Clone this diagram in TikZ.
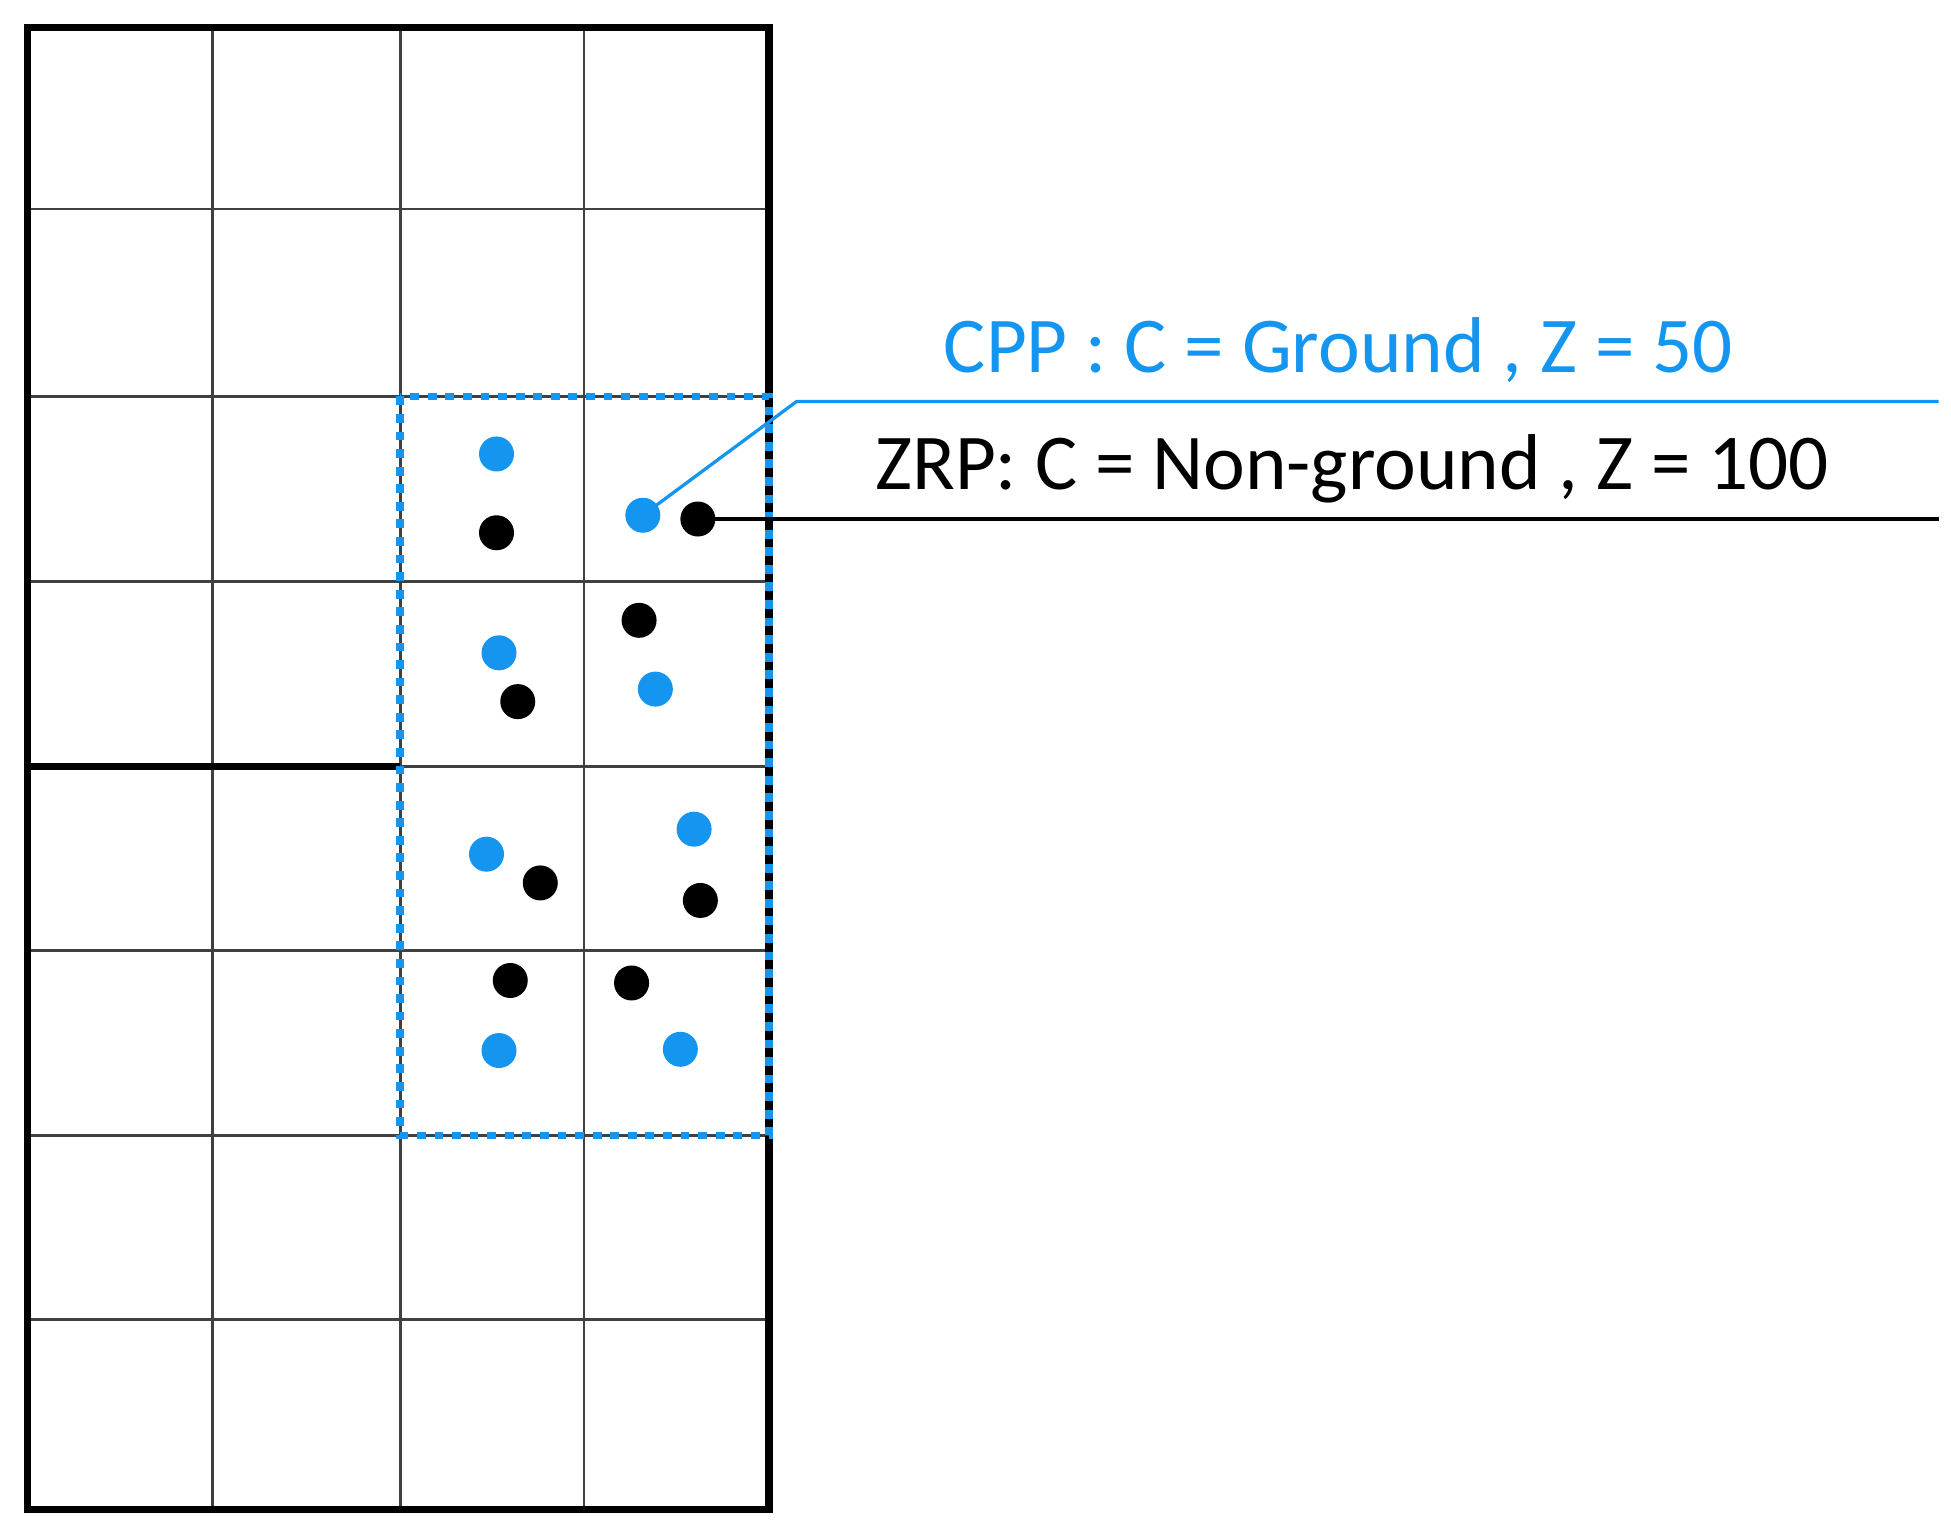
\documentclass[tikz,border=0pt]{standalone}
\usepackage{fontspec}
\setmainfont{Carlito}
\definecolor{cb}{RGB}{20,150,240}
\begin{document}
\begin{tikzpicture}[x=0.02cm,y=-0.02cm,
  thin grid/.style={line width=1.2pt,black!75},
  bdot/.style={circle,fill=cb,minimum size=0.56cm,inner sep=0pt},
  kdot/.style={circle,fill=black,minimum size=0.56cm,inner sep=0pt},
  lbl/.style={font=\fontsize{36}{40}\selectfont,inner sep=0pt}]
\useasboundingbox (0,0) rectangle (1560,1222);
\foreach \x in {170,320,467} \draw[thin grid] (\x,22) -- (\x,1207);
\foreach \y in {167,317,465,760,908,1055} \draw[thin grid] (22,\y) -- (615,\y);
\draw[thin grid] (320,613) -- (615,613);
\draw[line width=3.5pt] (22,613) -- (320,613);
\draw[line width=3.5pt] (22,22) rectangle (615,1207);
\draw[cb,line width=3.5pt,dash pattern=on 4pt off 4pt] (320,317) rectangle (615,908);
\foreach \p [count=\i] in {(397,363),(399,522),(524,551),(389,683),(555,663),(399,840),(544,839)} \node[bdot] (b\i) at \p {};
\node[bdot] (bA) at (514,412) {};
\foreach \p [count=\i] in {(397,426),(511,496),(414,561),(432,706),(560,720),(408,784),(505,786)} \node[kdot] (k\i) at \p {};
\node[kdot] (kA) at (558,415) {};
\coordinate (c1) at (637,321); \coordinate (c2) at (1550,321); \coordinate (c3) at (1550,415);
\draw[cb,line width=1.5pt] (bA.center) -- (c1) -- (c2);
\draw[line width=1.5pt] (kA.center) -- (c3);
\node[lbl,text=cb] (t1) at (1070,280) {CPP : C = Ground , Z = 50};
\node[lbl] (t2) at (1081,375) {ZRP: C = Non-ground , Z = 100};
\end{tikzpicture}
\end{document}
